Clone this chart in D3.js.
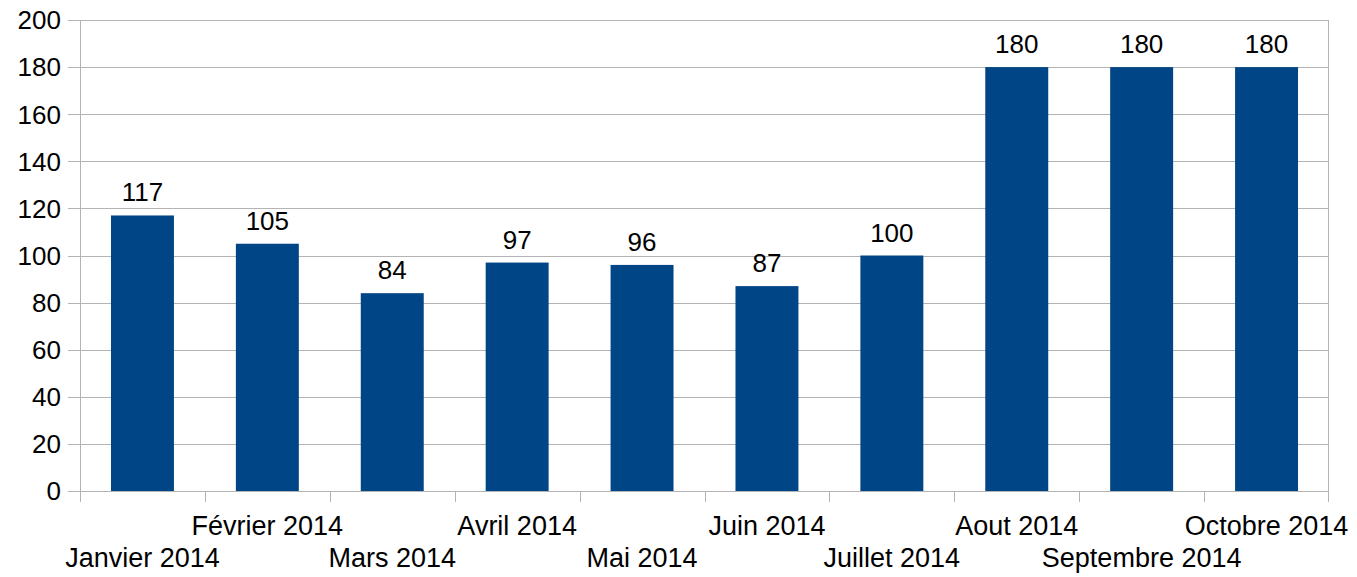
<!DOCTYPE html>
<html>
<head>
<meta charset="utf-8">
<script src="https://cdnjs.cloudflare.com/ajax/libs/d3/7.8.5/d3.min.js"></script>
<style>
  body { margin: 0; background: #fff; }
  svg text { font-family: "Liberation Sans", Arial, sans-serif; fill: #000; }
  .grid line { stroke: #b3b3b3; stroke-width: 1; }
  .axis path, .axis line { stroke: #b3b3b3; }
</style>
</head>
<body>
<svg id="chart" width="1357" height="577"></svg>
<script>
const months = ['Janvier 2014', 'Février 2014', 'Mars 2014', 'Avril 2014', 'Mai 2014',
  'Juin 2014', 'Juillet 2014', 'Aout 2014', 'Septembre 2014', 'Octobre 2014'];
const values = [117, 105, 84, 97, 96, 87, 100, 180, 180, 180];
const yTicks = [0, 20, 40, 60, 80, 100, 120, 140, 160, 180, 200];

const NUM_SIZE = 26;
const CAT_SIZE = 27;
const plotLeft = 80;
const plotRight = 1329;
const plotTop = 20;
const plotBottom = 491;

const svg = d3.select('#chart');

const x = d3.scaleBand()
  .domain(months)
  .range([plotLeft, plotRight])
  .paddingInner(0.496)
  .paddingOuter(0.248);

const y = d3.scaleLinear()
  .domain([0, 200])
  .range([plotBottom, plotTop]);

// horizontal grid lines, extending a bit left of the axis
svg.append('g')
  .attr('class', 'grid')
  .selectAll('line')
  .data(yTicks)
  .enter()
    .append('line')
    .attr('x1', plotLeft - 12)
    .attr('x2', plotRight)
    .attr('y1', (d) => Math.round(y(d)) + 0.5)
    .attr('y2', (d) => Math.round(y(d)) + 0.5);

// y tick labels
svg.append('g')
  .selectAll('text')
  .data(yTicks)
  .enter()
    .append('text')
    .attr('x', plotLeft - 19)
    .attr('y', (d) => y(d))
    .attr('dy', '0.36em')
    .attr('text-anchor', 'end')
    .style('font-size', NUM_SIZE + 'px')
    .text((d) => d);

// left axis line and right border
const axisLines = svg.append('g').attr('class', 'axis');
axisLines.append('line')
  .attr('x1', plotLeft + 0.5).attr('x2', plotLeft + 0.5)
  .attr('y1', plotTop).attr('y2', plotBottom + 11);
axisLines.append('line')
  .attr('x1', plotRight - 0.5).attr('x2', plotRight - 0.5)
  .attr('y1', plotTop).attr('y2', plotBottom + 11);

// category boundary ticks below the axis
const step = x.step();
axisLines.selectAll('.tick')
  .data(d3.range(1, months.length))
  .enter()
    .append('line')
    .attr('class', 'tick')
    .attr('x1', (i) => Math.round(plotLeft + step * i) + 0.5)
    .attr('x2', (i) => Math.round(plotLeft + step * i) + 0.5)
    .attr('y1', plotBottom)
    .attr('y2', plotBottom + 11);

// bars
svg.append('g')
  .selectAll('rect')
  .data(values)
  .enter()
    .append('rect')
    .attr('x', (d, i) => x(months[i]))
    .attr('width', x.bandwidth())
    .attr('y', (d) => y(d))
    .attr('height', (d) => y(0) - y(d))
    .attr('fill', '#004586');

// value labels
svg.append('g')
  .selectAll('text')
  .data(values)
  .enter()
    .append('text')
    .attr('x', (d, i) => x(months[i]) + x.bandwidth() / 2)
    .attr('y', (d) => y(d) - 14)
    .attr('text-anchor', 'middle')
    .style('font-size', NUM_SIZE + 'px')
    .text((d) => d);

// category labels, staggered on two rows
svg.append('g')
  .selectAll('text')
  .data(months)
  .enter()
    .append('text')
    .attr('x', (d) => x(d) + x.bandwidth() / 2)
    .attr('y', (d, i) => (i % 2 === 0 ? 567 : 535))
    .attr('text-anchor', 'middle')
    .style('font-size', CAT_SIZE + 'px')
    .text((d) => d);
</script>
</body>
</html>
